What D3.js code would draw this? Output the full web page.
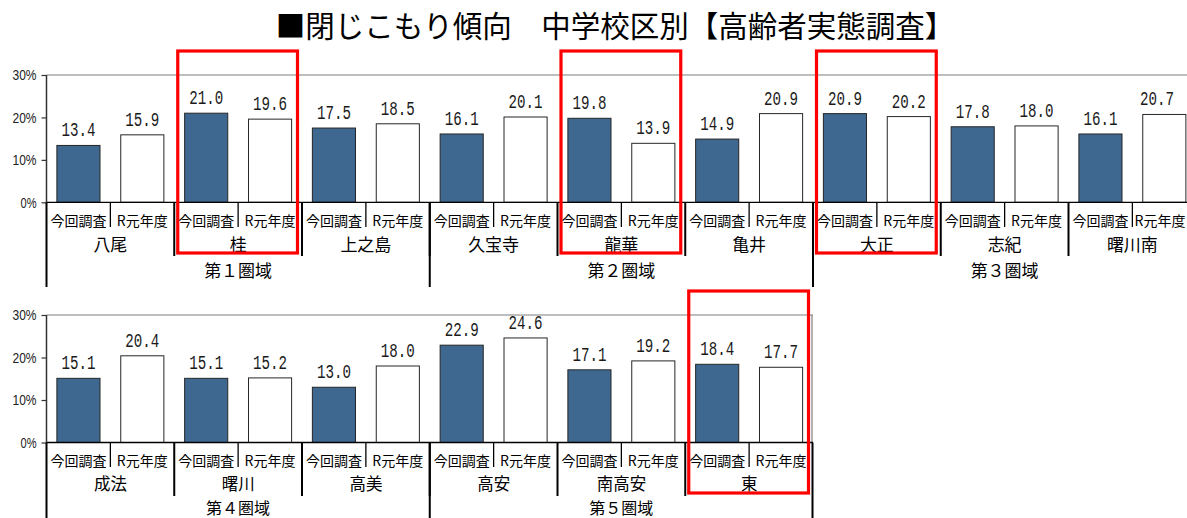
<!DOCTYPE html>
<html lang="ja">
<head>
<meta charset="utf-8">
<script src="https://cdn.jsdelivr.net/npm/d3@7"></script>
<style>
  html, body { margin: 0; padding: 0; background: #fff; }
  svg { display: block; }
</style>
</head>
<body>
<svg id="chart" width="1187" height="518"></svg>
<script>
// 閉じこもり傾向（中学校区別）— 今回調査とR元年度の比較
const seriesNames = ["今回調査", "R元年度"];
const yTicks = [0, 10, 20, 30];

// 上段：第１〜第３圏域
const schoolsTop = ["八尾", "桂", "上之島", "久宝寺", "龍華", "亀井", "大正", "志紀", "曙川南"];
const currentTop = [13.4, 21.0, 17.5, 16.1, 19.8, 14.9, 20.9, 17.8, 16.1];
const previousTop = [15.9, 19.6, 18.5, 20.1, 13.9, 20.9, 20.2, 18.0, 20.7];
const areasTop = ["第１圏域", "第２圏域", "第３圏域"];
const areaSizesTop = [3, 3, 3];

// 下段：第４・第５圏域
const schoolsBottom = ["成法", "曙川", "高美", "高安", "南高安", "東"];
const currentBottom = [15.1, 15.1, 13.0, 22.9, 17.1, 18.4];
const previousBottom = [20.4, 15.2, 18.0, 24.6, 19.2, 17.7];
const areasBottom = ["第４圏域", "第５圏域"];
const areaSizesBottom = [3, 3];

// 注目する校区（赤枠）
const highlighted = ["桂", "龍華", "大正", "東"];

const svg = d3.select("#chart");
const W = 1187, H = 518;
const jpFont = "'Noto Sans CJK JP', 'Noto Sans', sans-serif";
const monoFont = "'Liberation Mono', 'DejaVu Sans Mono', monospace";
const sansFont = "'Liberation Sans', Arial, sans-serif";
const barColors = ["#3f6890", "#ffffff"];

svg.append("text")
  .attr("x", 615).attr("y", 24)
  .attr("text-anchor", "middle")
  .attr("dominant-baseline", "central")
  .attr("font-family", jpFont)
  .attr("font-size", 29.5)
  .attr("fill", "#000")
  .text("■閉じこもり傾向　中学校区別【高齢者実態調査】");

const STEP = 127.75;
const LEFT = 46.5;

function drawPanel(cfg) {
  const g = svg.append("g");
  const n = cfg.schools.length;
  const right = LEFT + STEP * n;

  const x = d3.scaleBand().domain(cfg.schools).range([LEFT, right]).padding(0);
  const xs = d3.scaleBand().domain(seriesNames).range([0, x.bandwidth()]).padding(0);
  const y = d3.scaleLinear().domain([0, 30]).range([cfg.bottom, cfg.top]);
  const barW = xs.bandwidth() * 0.675;

  // plot area frame (top edge and, when visible, right edge)
  g.append("line")
    .attr("x1", LEFT).attr("x2", Math.min(right, W))
    .attr("y1", y(30)).attr("y2", y(30))
    .attr("stroke", "#7f7f7f").attr("stroke-width", 1.2);
  if (right < W) {
    g.append("line")
      .attr("x1", right - 1).attr("x2", right - 1)
      .attr("y1", y(30)).attr("y2", y(0))
      .attr("stroke", "#7f7f7f").attr("stroke-width", 1.2);
  }

  // value axis
  const yAxis = d3.axisLeft(y).tickValues(yTicks).tickSize(5).tickPadding(5)
    .tickFormat(d => d + "%");
  const ya = g.append("g").attr("transform", `translate(${LEFT},0)`).call(yAxis);
  ya.select(".domain").remove();
  ya.selectAll(".tick line").attr("stroke", "#333").attr("stroke-width", 1.2);
  ya.selectAll(".tick text")
    .attr("font-family", sansFont).attr("font-size", 15.5).attr("fill", "#222")
    .attr("textLength", d => d === 0 ? 16 : 24)
    .attr("lengthAdjust", "spacingAndGlyphs");

  // bars
  const rows = [];
  cfg.schools.forEach((s, i) => {
    rows.push({ school: s, series: seriesNames[0], value: cfg.current[i] });
    rows.push({ school: s, series: seriesNames[1], value: cfg.previous[i] });
  });
  const bx = d => x(d.school) + xs(d.series) + (xs.bandwidth() - barW) / 2;

  g.selectAll("rect.bar").data(rows).join("rect")
    .attr("class", "bar")
    .attr("x", bx)
    .attr("y", d => y(d.value))
    .attr("width", barW)
    .attr("height", d => y(0) - y(d.value))
    .attr("fill", d => barColors[seriesNames.indexOf(d.series)])
    .attr("stroke", "#262626").attr("stroke-width", 1);

  // data labels (narrow monospaced digits)
  g.selectAll("text.val").data(rows).join("text")
    .attr("class", "val")
    .attr("x", d => Math.min(bx(d) + barW / 2, W - 30))
    .attr("y", d => y(d.value) - 9)
    .attr("text-anchor", "middle")
    .attr("font-family", monoFont)
    .attr("font-size", 20.5)
    .attr("textLength", 34)
    .attr("lengthAdjust", "spacingAndGlyphs")
    .attr("fill", "#1a1a1a")
    .text(d => d.value.toFixed(1));

  // category axis baseline
  g.append("line")
    .attr("x1", LEFT).attr("x2", Math.min(right, W))
    .attr("y1", y(0)).attr("y2", y(0))
    .attr("stroke", "#000").attr("stroke-width", 1.3);

  // level 1: series labels and dividers; level 2 labels
  cfg.schools.forEach(s => {
    seriesNames.forEach(sn => {
      const cx = x(s) + xs(sn) + xs.bandwidth() / 2;
      g.append("text")
        .attr("x", Math.min(cx, W - 27))
        .attr("y", cfg.rowY[0])
        .attr("text-anchor", "middle")
        .attr("dominant-baseline", "central")
        .attr("font-family", jpFont).attr("font-size", 14)
        .attr("fill", "#000")
        .text(sn);
    });
    g.append("line")
      .attr("x1", x(s) + xs(seriesNames[1])).attr("x2", x(s) + xs(seriesNames[1]))
      .attr("y1", y(0)).attr("y2", cfg.sepEnd[0])
      .attr("stroke", "#000").attr("stroke-width", 1.3);
    g.append("text")
      .attr("x", x(s) + x.bandwidth() / 2)
      .attr("y", cfg.rowY[1])
      .attr("text-anchor", "middle")
      .attr("dominant-baseline", "central")
      .attr("font-family", jpFont).attr("font-size", cfg.schoolFont)
      .attr("fill", "#000")
      .text(s);
  });

  // level 2: school dividers
  cfg.schools.forEach((s, i) => {
    if (i === 0) return;
    g.append("line")
      .attr("x1", x(s)).attr("x2", x(s))
      .attr("y1", y(0)).attr("y2", cfg.sepEnd[1])
      .attr("stroke", "#000").attr("stroke-width", 2);
  });

  // level 3: areas
  let start = 0;
  cfg.areas.forEach((a, k) => {
    const x0 = x(cfg.schools[start]);
    const end = start + cfg.areaSizes[k];
    const x1 = end < n ? x(cfg.schools[end]) : right;
    g.append("text")
      .attr("x", (x0 + x1) / 2)
      .attr("y", cfg.rowY[2])
      .attr("text-anchor", "middle")
      .attr("dominant-baseline", "central")
      .attr("font-family", jpFont).attr("font-size", cfg.areaFont)
      .attr("fill", "#000")
      .text(a);
    g.append("line")
      .attr("x1", x1 - (end < n ? 0 : 0.5)).attr("x2", x1 - (end < n ? 0 : 0.5))
      .attr("y1", y(0)).attr("y2", cfg.sepEnd[2])
      .attr("stroke", "#000").attr("stroke-width", 2);
    start = end;
  });

  // left axis line through the category levels
  g.append("line")
    .attr("x1", LEFT).attr("x2", LEFT)
    .attr("y1", y(30)).attr("y2", y(0))
    .attr("stroke", "#333").attr("stroke-width", 1.5);
  g.append("line")
    .attr("x1", LEFT).attr("x2", LEFT)
    .attr("y1", y(0)).attr("y2", cfg.sepEnd[2])
    .attr("stroke", "#000").attr("stroke-width", 2);

  // highlight frames
  cfg.schools.filter(s => highlighted.includes(s)).forEach(s => {
    g.append("rect")
      .attr("x", x(s) + 3.5)
      .attr("y", y(30) - 24)
      .attr("width", x.bandwidth() - 8)
      .attr("height", cfg.sepEnd[1] - 3 - (y(30) - 24))
      .attr("fill", "none")
      .attr("stroke", "#ff0000").attr("stroke-width", 3.2);
  });
}

drawPanel({
  schools: schoolsTop, current: currentTop, previous: previousTop,
  areas: areasTop, areaSizes: areaSizesTop, schoolFont: 17, areaFont: 17,
  top: 75, bottom: 202.3,
  rowY: [220, 243, 269], sepEnd: [227, 256, 287]
});

drawPanel({
  schools: schoolsBottom, current: currentBottom, previous: previousBottom,
  areas: areasBottom, areaSizes: areaSizesBottom, schoolFont: 16.5, areaFont: 16,
  top: 315, bottom: 442.5,
  rowY: [460, 483, 507], sepEnd: [467, 496, 518]
});
</script>
</body>
</html>
